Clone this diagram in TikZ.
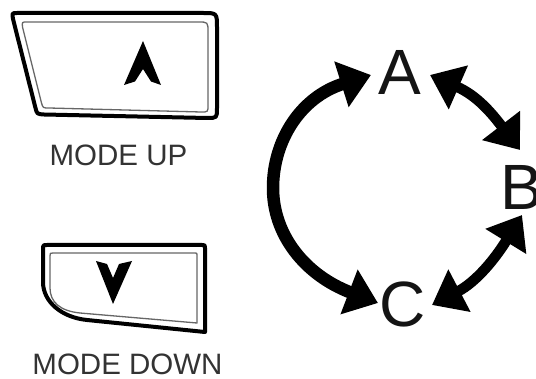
\documentclass[tikz,border=0pt]{standalone}
\usepackage{fontspec}
\setmainfont{Liberation Sans}
\usetikzlibrary{arrows.meta,calc}
\begin{document}
\begin{tikzpicture}[x=1pt,y=-1pt,
  outerline/.style={line width=4pt, line join=round, draw=black, fill=white},
  innerline/.style={line width=1.3pt, line join=round, draw=black!60},
  glyph/.style={fill=black, draw=none},
  caption/.style={font=\fontsize{29.5}{30}\selectfont, text=black!80, inner sep=0pt, anchor=base},
  letter/.style={font=\fontsize{64}{64}\selectfont, text=black!92, inner sep=0pt},
  cyc/.style={line width=#1, >={Triangle[length=31pt,width=46pt]}, <->},
]
\useasboundingbox (0,0) rectangle (536,379);
\fill[white] (0,0) rectangle (536,379);

% MODE UP button
\draw[outerline] (17,13) -- (203,13) .. controls (217,13) .. (217,28) -- (217,108)
  .. controls (217,118) .. (207,118) -- (44,114.5) .. controls (37,114) .. (35.5,108)
  -- (13,19) .. controls (12,13) .. (17,13) -- cycle;
\draw[innerline] (27,22) -- (198,22) .. controls (208,22) .. (208,32) -- (208,105)
  .. controls (208,112) .. (201,112) -- (49,108) .. controls (43,108) .. (41.5,103)
  -- (22.5,27) .. controls (22,22) .. (27,22) -- cycle;
\fill[glyph] (143,41) -- (161,85) -- (151,81.5) -- (143,69) -- (135,81.5) -- (124,85) -- cycle;
\node[caption] (up) at (118.5,166) {MODE UP};

% MODE DOWN button
\draw[outerline] (47,245) -- (202,245) .. controls (205,245) .. (205,248) -- (205,332)
  -- (87,320) .. controls (62,317.5) and (43,302) .. (43,282) -- (43,250)
  .. controls (43,245) .. (47,245) -- cycle;
\draw[innerline] (53,253) -- (195,253) .. controls (197,253) .. (197,255) -- (197,323)
  -- (80,313) .. controls (60,311) and (50,302) .. (50,288) -- (50,256)
  .. controls (50,253) .. (53,253) -- cycle;
\fill[glyph] (96,261) -- (107,264) -- (113,278) -- (119,264) -- (132,261) -- (113,304) -- cycle;
\node[caption] (down) at (127.5,374.5) {MODE DOWN};

% Mode letters
\node[letter, anchor=base] (A) at (400,95) {A};
\node[letter, anchor=base west] (B) at (500,210) {B};
\node[letter, anchor=base] (C) at (403,327) {C};

% Cycle arrows
\draw[cyc=12.5pt] ([shift={(-29,-20)}]A.base) .. controls +(-70,22) and +(0,-48) .. (273,188)
  .. controls +(0,47) and +(-73,-28) .. ([shift={(-25,-24)}]C.base);
\draw[cyc=10.5pt] ([shift={(30,-20)}]A.base) .. controls +(48,21) and +(-27,-35) .. ([shift={(20,-60)}]B.base west);
\draw[cyc=10.5pt] ([shift={(22,5)}]B.base west) .. controls +(-27,44) and +(44,-23) .. ([shift={(29,-22)}]C.base);
\end{tikzpicture}
\end{document}
